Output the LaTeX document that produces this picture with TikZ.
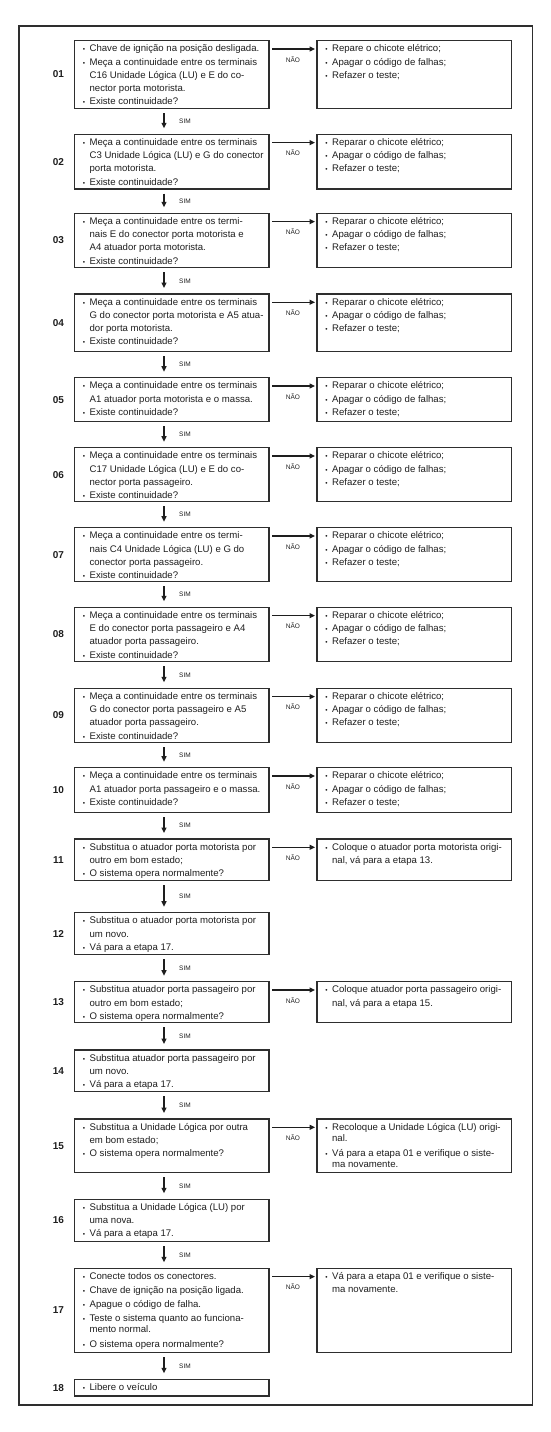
\documentclass[tikz,border=0pt]{standalone}
\usepackage{fontspec}
\setmainfont{Liberation Sans}
\usetikzlibrary{arrows.meta}
\definecolor{ink}{HTML}{1E1E1E}
\definecolor{edge}{HTML}{2E2E2E}
\newcommand\bu{\makebox[6.8pt][l]{\rule{0pt}{7.6pt}{\fontsize{6.5}{7}\selectfont\textbullet}}}
\newcommand\cn{\hspace*{6.8pt}}
% left box: id, top, height, text
\newcommand\LB[4]{%
  \node[lbox, minimum height=#3pt] (L#1) at (74.5,#2) {};
  \node[txt] (LT#1) at ([xshift=8.3pt,yshift=-3.5pt]L#1.north west) {#4};
  \node[num] (N#1) at ([xshift=-16pt]L#1.west) {#1};
}
% right box: id, height, text
\newcommand\RB[3]{%
  \node[rbox, minimum height=#2pt] (R#1) at ([xshift=48pt]L#1.north east) {};
  \node[txt] (RT#1) at ([xshift=8.3pt,yshift=-3.5pt]R#1.north west) {#3};
  \draw[nao] ([yshift=-8.3pt]L#1.north east) -- ([yshift=-8.3pt]R#1.north west)
     node[lbl, midway, yshift=-10.3pt] (NA#1) {NÃO};
}
% sim arrow
\newcommand\SA[2]{%
  \draw[sim] ([xshift=-7.75pt]L#1.south) -- ([xshift=-7.75pt]L#2.north)
     node[lbl, midway, xshift=21pt] (S#1) {SIM};
}
\newcommand\REP[1]{\bu #1\\\bu Apagar o código de falhas;\\\bu Refazer o teste;}
\begin{document}
\begin{tikzpicture}[x=1pt, y=-1pt,
  lbox/.style={draw=edge, line width=1.1pt, anchor=north west, minimum width=194.5pt, inner sep=0pt, outer sep=0pt},
  rbox/.style={lbox},
  txt/.style={anchor=north west, inner sep=0pt, outer sep=0pt, align=left, text=ink, font=\fontsize{9.6}{13.2}\selectfont},
  num/.style={font=\fontsize{10}{12}\selectfont\bfseries, text=ink},
  lbl/.style={font=\fontsize{6.5}{8}\selectfont, text=ink, inner sep=0pt},
  nao/.style={-{Triangle[length=5.5pt,width=5pt]}, line width=1.2pt, draw=ink, shorten <=3pt, shorten >=2pt},
  sim/.style={-{Triangle[length=5.5pt,width=5pt]}, line width=1.3pt, draw=ink, shorten <=4.7pt, shorten >=6pt}]
\useasboundingbox (0,0) rectangle (551,1432);
\draw[draw=edge, line width=1.1pt] (19,26) rectangle (532.3,1405);

\LB{01}{40.7}{67.6}{\bu Chave de ignição na posição desligada.\\\bu Meça a continuidade entre os terminais\\\cn C16 Unidade Lógica (LU) e E do co-\\\cn nector porta motorista.\\\bu Existe continuidade?}
\RB{01}{67.6}{\bu Repare o chicote elétrico;\\\bu Apagar o código de falhas;\\\bu Refazer o teste;}

\LB{02}{134.3}{54.7}{\bu Meça a continuidade entre os terminais\\\cn C3 Unidade Lógica (LU) e G do conector\\\cn porta motorista.\\\bu Existe continuidade?}
\RB{02}{54.7}{\REP{Reparar o chicote elétrico;}}

\LB{03}{213.3}{54.4}{\bu Meça a continuidade entre os termi-\\\cn nais E do conector porta motorista e\\\cn A4 atuador porta motorista.\\\bu Existe continuidade?}
\RB{03}{54.4}{\REP{Reparar o chicote elétrico;}}

\LB{04}{294}{57.7}{\bu Meça a continuidade entre os terminais\\\cn G do conector porta motorista e A5 atua-\\\cn dor porta motorista.\\\bu Existe continuidade?}
\RB{04}{57.7}{\REP{Reparar o chicote elétrico;}}

\LB{05}{377.7}{44}{\bu Meça a continuidade entre os terminais\\\cn A1 atuador porta motorista e o massa.\\\bu Existe continuidade?}
\RB{05}{44}{\REP{Reparar o chicote elétrico;}}

\LB{06}{447.7}{54}{\bu Meça a continuidade entre os terminais\\\cn C17 Unidade Lógica (LU) e E do co-\\\cn nector porta passageiro.\\\bu Existe continuidade?}
\RB{06}{54}{\REP{Reparar o chicote elétrico;}}

\LB{07}{527.7}{54}{\bu Meça a continuidade entre os termi-\\\cn nais C4 Unidade Lógica (LU) e G do\\\cn conector porta passageiro.\\\bu Existe continuidade?}
\RB{07}{54}{\REP{Reparar o chicote elétrico;}}

\LB{08}{607.3}{54.4}{\bu Meça a continuidade entre os terminais\\\cn E do conector porta passageiro e A4\\\cn atuador porta passageiro.\\\bu Existe continuidade?}
\RB{08}{54.4}{\REP{Reparar o chicote elétrico;}}

\LB{09}{688.3}{54.4}{\bu Meça a continuidade entre os terminais\\\cn G do conector porta passageiro e A5\\\cn atuador porta passageiro.\\\bu Existe continuidade?}
\RB{09}{54.4}{\REP{Reparar o chicote elétrico;}}

\LB{10}{767.7}{44.6}{\bu Meça a continuidade entre os terminais\\\cn A1 atuador porta passageiro e o massa.\\\bu Existe continuidade?}
\RB{10}{44.6}{\REP{Reparar o chicote elétrico;}}

\LB{11}{839}{41.7}{\bu Substitua o atuador porta motorista por\\\cn outro em bom estado;\\\bu O sistema opera normalmente?}
\RB{11}{41.7}{\bu Coloque o atuador porta motorista origi-\\\cn nal, vá para a etapa 13.}

\LB{12}{912.7}{41.6}{\bu Substitua o atuador porta motorista por\\\cn um novo.\\\bu Vá para a etapa 17.}

\LB{13}{981.7}{41}{\bu Substitua atuador porta passageiro por\\\cn outro em bom estado;\\\bu O sistema opera normalmente?}
\RB{13}{41}{\bu Coloque atuador porta passageiro origi-\\\cn nal, vá para a etapa 15.}

\LB{14}{1050}{41.7}{\bu Substitua atuador porta passageiro por\\\cn um novo.\\\bu Vá para a etapa 17.}

\LB{15}{1119}{53.7}{\bu Substitua a Unidade Lógica por outra\\\cn em bom estado;\\\bu O sistema opera normalmente?}
\RB{15}{53.7}{\bu Recoloque a Unidade Lógica (LU) origi-\\[-1.7pt]\cn nal.\\[1.4pt]\bu Vá para a etapa 01 e verifique o siste-\\[-1.7pt]\cn ma novamente.}

\LB{16}{1199.3}{42.4}{\bu Substitua a Unidade Lógica (LU) por\\\cn uma nova.\\\bu Vá para a etapa 17.}

\LB{17}{1268.3}{84.4}{\bu Conecte todos os conectores.\\[1pt]\bu Chave de ignição na posição ligada.\\[0.5pt]\bu Apague o código de falha.\\[1pt]\bu Teste o sistema quanto ao funciona-\\[-1.8pt]\cn mento normal.\\[1pt]\bu O sistema opera normalmente?}
\RB{17}{84.4}{\bu Vá para a etapa 01 e verifique o siste-\\\cn ma novamente.}

\LB{18}{1379.3}{16.7}{\bu Libere o veículo}

\SA{01}{02}\SA{02}{03}\SA{03}{04}\SA{04}{05}\SA{05}{06}\SA{06}{07}
\SA{07}{08}\SA{08}{09}\SA{09}{10}\SA{10}{11}\SA{11}{12}\SA{12}{13}
\SA{13}{14}\SA{14}{15}\SA{15}{16}\SA{16}{17}\SA{17}{18}
\end{tikzpicture}
\end{document}
